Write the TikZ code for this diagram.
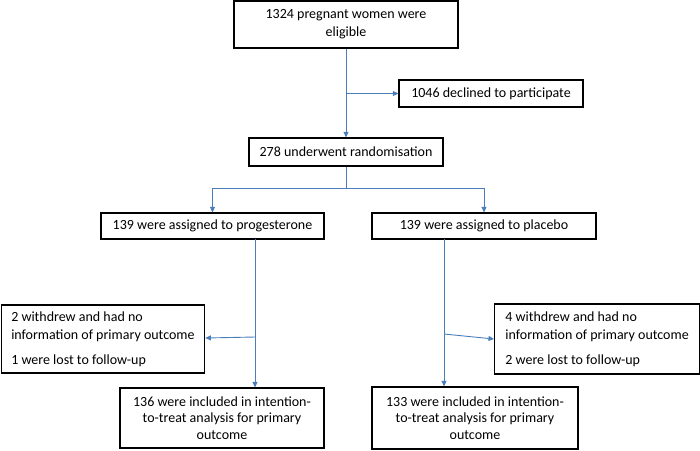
\documentclass[tikz,border=0pt]{standalone}
\usepackage{fontspec}
\setmainfont{Carlito}
\usetikzlibrary{arrows.meta,calc}
\definecolor{conncol}{HTML}{4A7EBB}
\tikzset{
  box/.style={draw=black, line width=1.2pt, rectangle, inner sep=0pt, align=center,
    font=\fontsize{14}{18}\selectfont, text=black},
  sidebox/.style={box, align=left, inner xsep=7pt, anchor=west},
  conn/.style={draw=conncol, line width=0.9pt, -{Triangle[length=5.5pt,width=5pt]}},
  line/.style={draw=conncol, line width=0.9pt},
}
\begin{document}
\begin{tikzpicture}[x=1pt,y=-1pt]
\useasboundingbox (0,0) rectangle (700,450);
\node[box, minimum width=224pt, minimum height=47pt] (b1) at (346,24.5) {1324 pregnant women were\\eligible};
\node[box, minimum width=184pt, minimum height=27pt] (dec) at (491,93.5) {1046 declined to participate};
\node[box, minimum width=194pt, minimum height=28pt] (b2) at (346,152) {278 underwent randomisation};
\node[box, minimum width=223pt, minimum height=26pt] (prog) at (212.5,226) {139 were assigned to progesterone};
\node[box, minimum width=224pt, minimum height=26pt] (plac) at (484,226) {139 were assigned to placebo};
\node[sidebox, minimum width=203.5pt, minimum height=68pt] (wd1) at (0.6,339) {2 withdrew and had no\\information of primary outcome\\[7pt]1 were lost to follow-up};
\node[sidebox, minimum width=205pt, minimum height=70pt] (wd2) at (494,339) {4 withdrew and had no\\information of primary outcome\\[7pt]2 were lost to follow-up};
\node[box, minimum width=204pt, minimum height=60pt, font=\fontsize{14}{16.5}\selectfont] (itt1) at (222,418) {136 were included in intention-\\to-treat analysis for primary\\outcome};
\node[box, minimum width=206pt, minimum height=62pt, font=\fontsize{14}{16.5}\selectfont] (itt2) at (475,418) {133 were included in intention-\\to-treat analysis for primary\\outcome};
% connectors
\coordinate (j1) at (b1.south |- dec.west);
\draw[conn] (b1.south) -- (b2.north);
\draw[conn] (j1) -- (dec.west);
\coordinate (j2) at (346,188);
\draw[line] (b2.south) -- (j2);
\draw[conn] (j2) -| (prog.north);
\draw[conn] (j2) -| (plac.north);
\coordinate (pt) at (255,239);
\coordinate (pj) at (255,337);
\draw[conn] (pt) -- (pt |- itt1.north);
\draw[conn] (pj) -- ([yshift=1pt]wd1.east);
\coordinate (qt) at (444,239);
\coordinate (qj) at (444,334);
\draw[conn] (qt) -- (qt |- itt2.north);
\draw[conn] (qj) -- (wd2.west);
\end{tikzpicture}
\end{document}
